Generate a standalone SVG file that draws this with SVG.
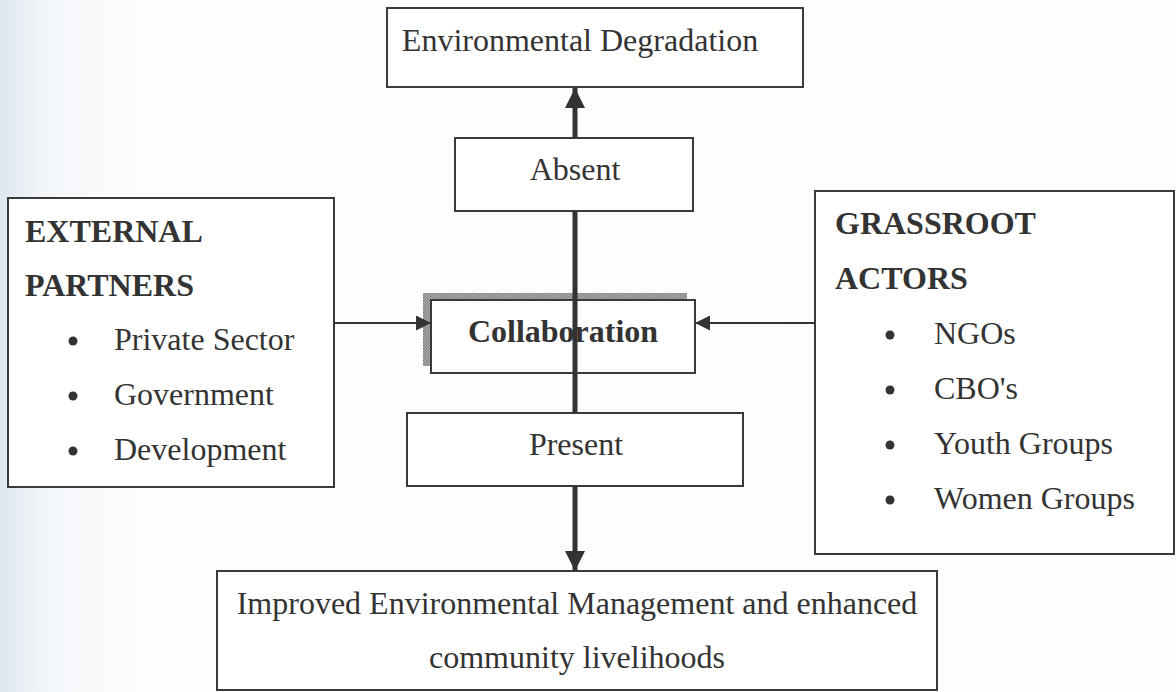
<svg xmlns="http://www.w3.org/2000/svg" width="1176" height="692" viewBox="0 0 1176 692">
  <defs>
    <linearGradient id="bg" x1="0" y1="0" x2="1" y2="0">
      <stop offset="0" stop-color="#dfe6ee"/>
      <stop offset="0.04" stop-color="#f4f7fa"/>
      <stop offset="0.12" stop-color="#fdfdfe"/>
      <stop offset="1" stop-color="#fefefe"/>
    </linearGradient>
    <pattern id="hatch" width="3" height="3" patternUnits="userSpaceOnUse">
      <rect width="3" height="3" fill="#b5b5b5"/>
      <rect width="1.5" height="1.5" fill="#7a7a7a"/>
      <rect x="1.5" y="1.5" width="1.5" height="1.5" fill="#7a7a7a"/>
    </pattern>
    <marker id="headThick" viewBox="0 0 10 10" refX="10" refY="5" markerWidth="4" markerHeight="4" markerUnits="strokeWidth" orient="auto">
      <path d="M0,0 L10,5 L0,10 Z" fill="#333"/>
    </marker>
    <marker id="headThin" viewBox="0 0 10 10" refX="10" refY="5" markerWidth="7.5" markerHeight="7.5" markerUnits="strokeWidth" orient="auto">
      <path d="M0,0 L10,5 L0,10 Z" fill="#333"/>
    </marker>
  </defs>
  <style>
    .box { fill: #ffffff; stroke: #3a3a3a; stroke-width: 2; }
    .txt { font-family: "Liberation Serif", "Times New Roman", serif; font-size: 32px; fill: #333333; }
    .bold { font-weight: bold; }
    .mid { text-anchor: middle; }
    .bul { fill: #333333; }
    .thick { stroke: #333333; stroke-width: 5; fill: none; }
    .thin { stroke: #333333; stroke-width: 2; fill: none; }
  </style>

  <rect x="0" y="0" width="1176" height="692" fill="url(#bg)"/>

  <g id="node-degradation">
    <rect class="box" x="387" y="8" width="416" height="79"/>
    <text class="txt mid" x="580" y="51">Environmental Degradation</text>
  </g>

  <g id="node-absent">
    <rect class="box" x="455" y="138" width="238" height="73"/>
    <text class="txt mid" x="575" y="180">Absent</text>
  </g>

  <g id="node-external">
    <rect class="box" x="8" y="198" width="326" height="289"/>
    <text class="txt bold" x="25" y="242">EXTERNAL</text>
    <text class="txt bold" x="25" y="296">PARTNERS</text>
    <circle class="bul" cx="73" cy="341" r="4.5"/>
    <text class="txt" x="114" y="350">Private Sector</text>
    <circle class="bul" cx="73" cy="396" r="4.5"/>
    <text class="txt" x="114" y="405">Government</text>
    <circle class="bul" cx="73" cy="451" r="4.5"/>
    <text class="txt" x="114" y="460">Development</text>
  </g>

  <g id="node-collaboration">
    <rect x="423" y="293" width="264" height="73" fill="url(#hatch)"/>
    <rect class="box" x="431" y="300" width="264" height="73"/>
    <text class="txt bold mid" x="563" y="342">Collaboration</text>
  </g>

  <g id="node-grassroot">
    <rect class="box" x="815" y="191" width="359" height="363"/>
    <text class="txt bold" x="835" y="234">GRASSROOT</text>
    <text class="txt bold" x="835" y="289">ACTORS</text>
    <circle class="bul" cx="890" cy="335" r="4.5"/>
    <text class="txt" x="934" y="344">NGOs</text>
    <circle class="bul" cx="890" cy="390" r="4.5"/>
    <text class="txt" x="934" y="399">CBO's</text>
    <circle class="bul" cx="890" cy="445" r="4.5"/>
    <text class="txt" x="934" y="454">Youth Groups</text>
    <circle class="bul" cx="890" cy="500" r="4.5"/>
    <text class="txt" x="934" y="509">Women Groups</text>
  </g>

  <g id="node-present">
    <rect class="box" x="407" y="413" width="336" height="73"/>
    <text class="txt mid" x="576" y="455">Present</text>
  </g>

  <g id="node-improved">
    <rect class="box" x="217" y="571" width="720" height="119"/>
    <text class="txt mid" x="577" y="614">Improved Environmental Management and enhanced</text>
    <text class="txt mid" x="577" y="668">community livelihoods</text>
  </g>

  <g id="connectors">
    <line class="thick" x1="575" y1="138" x2="575" y2="88" marker-end="url(#headThick)"/>
    <line class="thick" x1="575" y1="211" x2="575" y2="413"/>
    <line class="thick" x1="575" y1="486" x2="575" y2="571" marker-end="url(#headThick)"/>
    <line class="thin" x1="334" y1="323" x2="431" y2="323" marker-end="url(#headThin)"/>
    <line class="thin" x1="815" y1="323" x2="695" y2="323" marker-end="url(#headThin)"/>
  </g>
</svg>
